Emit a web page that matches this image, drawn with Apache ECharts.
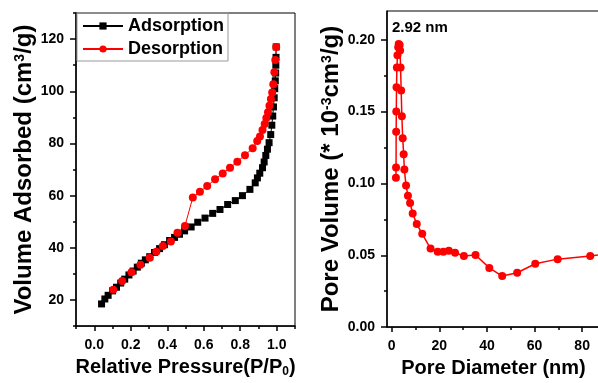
<!DOCTYPE html>
<html>
<head>
<meta charset="utf-8">
<script src="https://cdn.jsdelivr.net/npm/echarts@6.0.0/dist/echarts.min.js"></script>
<style>
html,body{margin:0;padding:0;background:#fff;overflow:hidden}
#chart{width:600px;height:383px}
</style>
</head>
<body>
<div id="chart"></div>
<script>
// isotherm (left panel)
const adsP = [0.04,0.058,0.076,0.10,0.122,0.145,0.167,0.19,0.213,0.236,0.258,0.28,0.304,0.33,0.358,0.385,0.413,0.44,0.467,0.495,0.531,0.567,0.607,0.649,0.689,0.731,0.773,0.812,0.853,0.882,0.894,0.907,0.922,0.931,0.94,0.949,0.958,0.967,0.973,0.978,0.982,0.986,0.989,0.992,0.994,0.995,0.996,0.997];
const adsV = [18.5,20.4,21.8,23.5,24.9,26.5,28,29.6,31.1,32.6,34.1,35.4,36.6,38.2,39.7,41.2,42.8,44,45.2,46.5,48,49.8,51.4,53.2,54.7,56.6,58.1,60,62.4,64.9,66.8,68.6,70.7,72.9,75.4,77.8,80.3,83.4,87,90.5,94,97.5,101,104,107,110,113,117];
const desP = [0.997,0.992,0.987,0.981,0.975,0.968,0.96,0.952,0.943,0.934,0.922,0.908,0.893,0.868,0.826,0.784,0.744,0.704,0.662,0.619,0.579,0.54,0.497,0.456,0.42,0.376,0.34,0.304,0.253,0.204,0.153,0.104];
const desV = [117,112,107.3,102.7,99.5,97,94.5,92,89.8,87.5,85.2,82.7,80.9,78.2,75.5,73,70.7,68.5,66.3,63.7,61.5,59.3,48.4,45.8,42.4,40.7,38.5,36.2,33.5,30.6,27.3,23.9];

// pore size distribution (right panel)
const poreD = [1.75,1.8,1.85,1.9,2.0,2.15,2.4,2.7,2.92,3.3,3.5,3.7,3.95,4.25,4.6,5.0,5.3,6.0,6.8,7.7,8.8,10.5,12.8,16.3,19.3,21.7,24,26.6,30.3,35.2,41,46.4,52.7,60.3,69.7,83.4,95];
const poreV = [0.104,0.111,0.136,0.150,0.167,0.1806,0.1892,0.1948,0.197,0.1964,0.1925,0.1806,0.1647,0.1467,0.1315,0.1203,0.1096,0.0985,0.0915,0.0864,0.0791,0.0717,0.0649,0.0547,0.0525,0.0525,0.0532,0.0518,0.0495,0.0502,0.0412,0.0355,0.0378,0.0441,0.0473,0.0495,0.052];

// tick labels / tick positions
const pressureTicks = [0,0.2,0.4,0.6,0.8,1.0];
const pressureMinor = [-0.1,0.1,0.3,0.5,0.7,0.9,1.1];
const volumeTicks = [20,40,60,80,100,120];
const volumeMinor = [10,30,50,70,90,110,130];
const diamTicks = [0,20,40,60,80];
const diamMinor = [10,30,50,70];
const poreTicks = [0,0.05,0.10,0.15,0.20];
const poreMinor = [0.025,0.075,0.125,0.175];

const FONT = '"Liberation Sans", Arial, sans-serif';

const chart = echarts.init(document.getElementById('chart'), null, { renderer: 'canvas' });

function majorAxis(grid, min, max, ticks, fmt, tickLen, extra) {
    return Object.assign({
        type: 'value', gridIndex: grid, min: min, max: max,
        axisLine: { show: true, onZero: false, lineStyle: { color: '#000', width: 1.5 } },
        axisTick: { show: true, customValues: ticks, length: tickLen, lineStyle: { color: '#000', width: 1.5 } },
        axisLabel: { customValues: ticks, formatter: fmt, color: '#000', fontSize: 14, fontWeight: 'bold', fontFamily: FONT, margin: 12 },
        splitLine: { show: false },
        nameTextStyle: { color: '#000', fontWeight: 'bold', fontFamily: FONT }
    }, extra);
}
function minorAxis(grid, min, max, ticks, pos) {
    return {
        type: 'value', gridIndex: grid, min: min, max: max, position: pos,
        axisLine: { show: false, onZero: false },
        axisTick: { show: true, customValues: ticks, length: 3, lineStyle: { color: '#000', width: 1.5 } },
        axisLabel: { show: false },
        splitLine: { show: false }
    };
}

const option = {
    animation: false,
    backgroundColor: '#fff',
    grid: [
        { left: 76, top: 13, width: 219, height: 324, show: true, borderColor: '#000', borderWidth: 1 },
        { left: 387, top: 11, width: 213, height: 325, show: true, borderColor: '#000', borderWidth: 1 }
    ],
    legend: {
        left: 77, top: 13, orient: 'vertical',
        data: ['Adsorption', 'Desorption'],
        itemWidth: 40, itemHeight: 9, itemGap: 5,
        padding: [4, 4, 3, 5],
        borderColor: '#999', borderWidth: 1,
        textStyle: { color: '#000', fontSize: 18, fontWeight: 'bold', fontFamily: FONT, lineHeight: 18 }
    },
    xAxis: [
        majorAxis(0, -0.1, 1.1, pressureTicks, v => v.toFixed(1), 5, {
            position: 'bottom',
            name: 'Relative Pressure(P/P{sub|0})', nameLocation: 'middle', nameGap: 25,
            nameTextStyle: { color: '#000', fontSize: 20, fontWeight: 'bold', fontFamily: FONT,
                rich: { sub: { fontSize: 12, fontWeight: 'bold', fontFamily: FONT, verticalAlign: 'bottom', padding: [10, 0, 0, 0] } } }
        }),
        minorAxis(0, -0.1, 1.1, pressureMinor, 'bottom'),
        majorAxis(1, -2, 87.5, diamTicks, v => String(v), 5, {
            position: 'bottom',
            name: 'Pore Diameter (nm)', nameLocation: 'middle', nameGap: 24,
            nameTextStyle: { color: '#000', fontSize: 20, fontWeight: 'bold', fontFamily: FONT }
        }),
        minorAxis(1, -2, 87.5, diamMinor, 'bottom')
    ],
    yAxis: [
        majorAxis(0, 10, 130, volumeTicks, v => String(v), 6, {
            position: 'left',
            name: 'Volume Adsorbed (cm{sup|3}/g)', nameLocation: 'middle', nameGap: 31,
            nameTextStyle: { color: '#000', fontSize: 24, fontWeight: 'bold', fontFamily: FONT,
                rich: { sup: { fontSize: 14, fontWeight: 'bold', fontFamily: FONT, verticalAlign: 'top' } } }
        }),
        minorAxis(0, 10, 130, volumeMinor, 'left'),
        majorAxis(1, 0, 0.22, poreTicks, v => v.toFixed(2), 6, {
            position: 'left',
            name: 'Pore Volume (* 10{sup|-3}cm{sup|3}/g)', nameLocation: 'middle', nameGap: 38,
            nameTextStyle: { color: '#000', fontSize: 24, fontWeight: 'bold', fontFamily: FONT,
                rich: { sup: { fontSize: 14, fontWeight: 'bold', fontFamily: FONT, verticalAlign: 'top' } } }
        }),
        minorAxis(1, 0, 0.22, poreMinor, 'left')
    ],
    graphic: [
        { type: 'text', left: 392, top: 20, style: { text: '2.92 nm', fill: '#000', font: 'bold 15px ' + FONT } }
    ],
    series: [
        {
            name: 'Adsorption', type: 'line', xAxisIndex: 0, yAxisIndex: 0,
            symbol: 'rect', symbolSize: 7,
            itemStyle: { color: '#000' },
            lineStyle: { color: '#000', width: 1 },
            data: adsP.map((p, i) => [p, adsV[i]])
        },
        {
            name: 'Desorption', type: 'line', xAxisIndex: 0, yAxisIndex: 0,
            symbol: 'circle', symbolSize: 8,
            itemStyle: { color: '#ff0000' },
            lineStyle: { color: '#ff0000', width: 1 },
            data: desP.map((p, i) => [p, desV[i]])
        },
        {
            name: 'PSD', type: 'line', xAxisIndex: 2, yAxisIndex: 2,
            symbol: 'circle', symbolSize: 8,
            itemStyle: { color: '#ff0000' },
            lineStyle: { color: '#ff0000', width: 1.5 },
            data: poreD.map((d, i) => [d, poreV[i]])
        }
    ]
};
chart.setOption(option);
</script>
</body>
</html>
